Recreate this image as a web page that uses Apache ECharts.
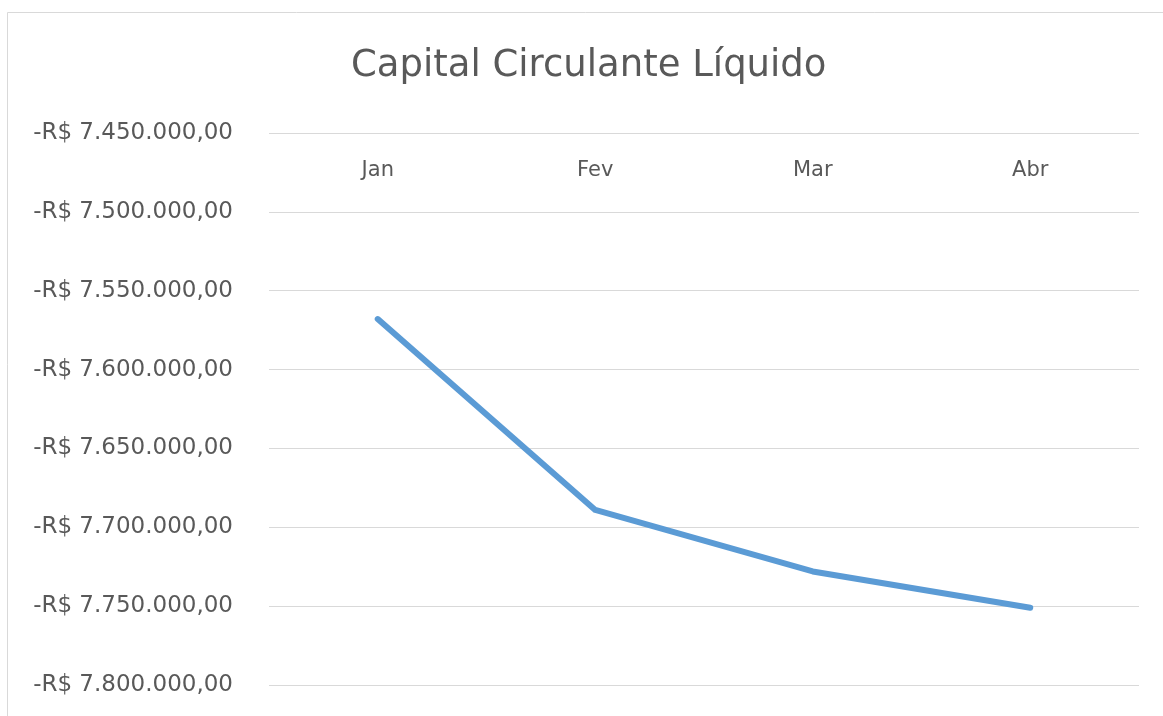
<!DOCTYPE html>
<html>
<head>
<meta charset="utf-8">
<script src="https://cdn.jsdelivr.net/npm/echarts@6/dist/echarts.min.js"></script>
<style>
  html, body { margin: 0; padding: 0; background: #fff; }
  #chart { width: 1163px; height: 716px; }
</style>
</head>
<body>
<div id="chart"></div>
<script>
// dados
const months = ['Jan', 'Fev', 'Mar', 'Abr'];
const ccl = [-7568000, -7689000, -7728000, -7751000];
const yMin = -7800000;
const yMax = -7450000;
const yStep = 50000;

function brl(v) {
  const neg = v < 0;
  const s = Math.round(Math.abs(v)).toString().replace(/\B(?=(\d{3})+(?!\d))/g, '.');
  return (neg ? '-' : '') + 'R$ ' + s + ',00';
}

const chart = echarts.init(document.getElementById('chart'));
chart.setOption({
  backgroundColor: '#fff',
  textStyle: { fontFamily: 'DejaVu Sans' },
  title: {
    text: 'Capital Circulante Líquido',
    left: 346,
    top: 43,
    textStyle: { fontFamily: 'DejaVu Sans', fontSize: 37, fontWeight: 'normal', color: '#595959' }
  },
  graphic: [{
    type: 'rect',
    shape: { x: 7.5, y: 12.5, width: 1160, height: 720 },
    style: { fill: 'none', stroke: '#d9d9d9', lineWidth: 1 },
    silent: true
  }],
  grid: { left: 269, right: 24, top: 133, bottom: 31 },
  xAxis: {
    type: 'category',
    data: months,
    position: 'top',
    boundaryGap: true,
    axisLine: { show: false },
    axisTick: { show: false },
    axisLabel: { inside: true, margin: 27, fontSize: 21, color: '#595959' }
  },
  yAxis: {
    type: 'value',
    min: yMin,
    max: yMax,
    interval: yStep,
    axisLine: { show: false },
    axisTick: { show: false },
    axisLabel: { margin: 36, fontSize: 23, color: '#595959', formatter: brl },
    splitLine: { lineStyle: { color: '#d9d9d9', width: 1 } }
  },
  series: [{
    type: 'line',
    data: ccl,
    symbol: 'none',
    lineStyle: { color: '#5b9bd5', width: 6, cap: 'round', join: 'round' }
  }]
});
</script>
</body>
</html>
